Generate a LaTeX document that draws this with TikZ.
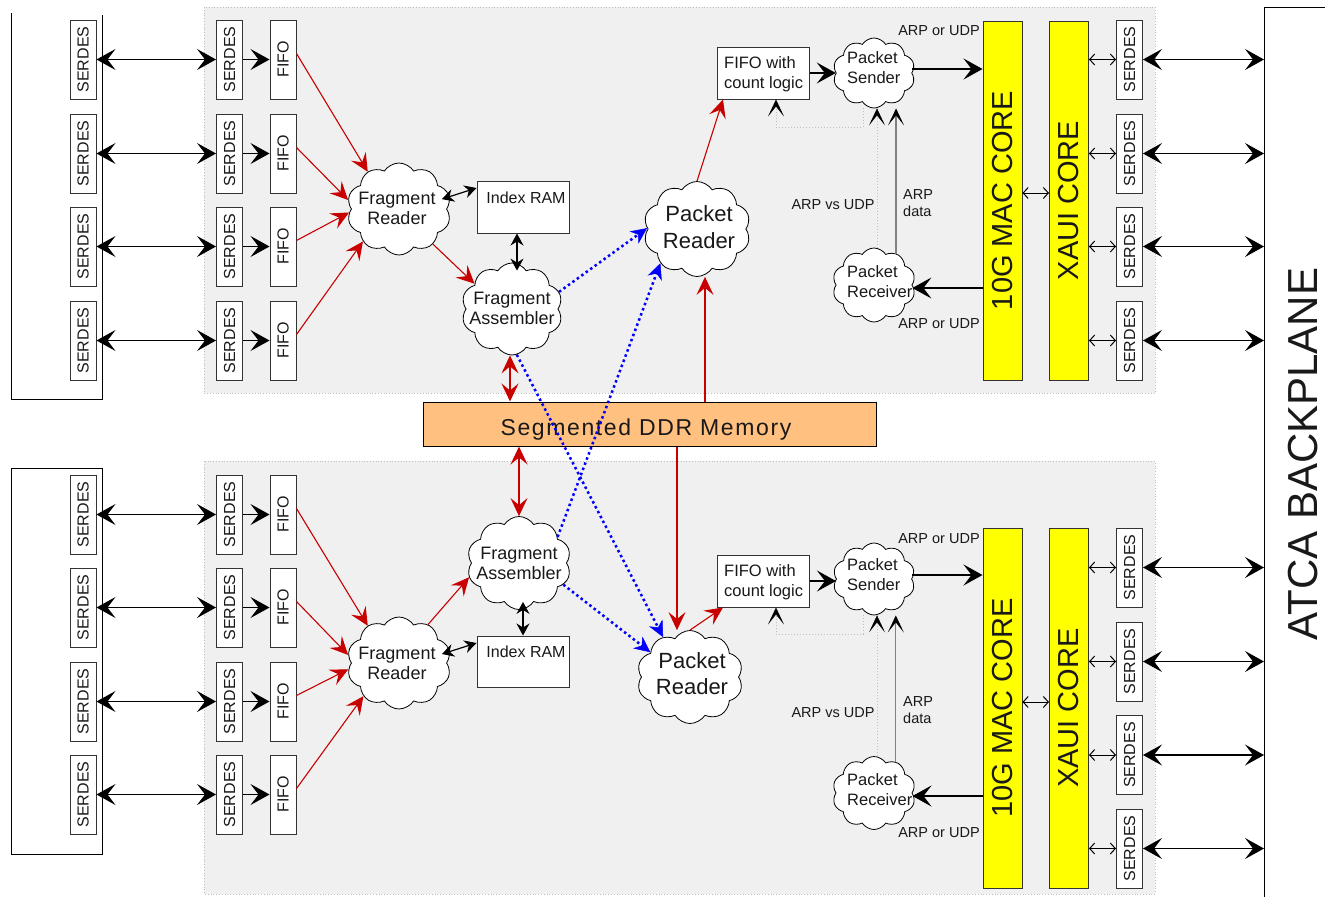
\documentclass[tikz,border=0pt]{standalone}
\usepackage{fontspec}
\setmainfont{Liberation Sans}
\usepackage{graphicx}
\usetikzlibrary{shapes.symbols,arrows.meta,calc}
\definecolor{panel}{HTML}{F0F0F0}
\definecolor{panelb}{HTML}{BEBEBE}
\definecolor{ddrc}{HTML}{FFC080}
\definecolor{dred}{HTML}{C80000}
\definecolor{myyel}{HTML}{FFFF00}
\definecolor{dblue}{HTML}{0000FF}
\begin{document}
\begin{tikzpicture}[x=1pt,y=-1pt,
  every node/.style={inner sep=0pt, text=black!90},
  panelst/.style={fill=panel, draw=panelb, dotted, line width=0.8pt},
  board/.style={draw=black, line width=1pt},
  vbox/.style={draw=black!80, line width=1pt, fill=white, minimum width=26pt, minimum height=79pt, font=\fontsize{16}{16}\selectfont},
  rbox/.style={draw=black!80, line width=1pt, fill=white},
  core/.style={draw=black!80, line width=1pt, fill=myyel, minimum width=39pt, minimum height=359pt, font=\fontsize{29}{29}\selectfont},
  ddrbox/.style={draw=black, line width=1pt, fill=ddrc, minimum width=453pt, minimum height=44pt},
  cl/.style={cloud, cloud puffs=10, cloud puff arc=115, cloud ignores aspect, draw=black, fill=white, line width=0.8pt},
  clt/.style={font=\fontsize{18}{20}\selectfont, align=center},
  clts/.style={font=\fontsize{16.5}{20}\selectfont, align=left, anchor=west},
  lb/.style={font=\fontsize{14.5}{17}\selectfont},
  bk/.style={draw=black, line width=1.2pt},
  bigdbl/.style={bk, {Stealth[length=19pt,width=21pt,inset=8pt]}-{Stealth[length=19pt,width=21pt,inset=8pt]}},
  bigarr/.style={bk, -{Stealth[length=19pt,width=21pt,inset=8pt]}},
  irdbl/.style={bk, {Stealth[length=12pt,width=13pt,inset=4pt]}-{Stealth[length=12pt,width=13pt,inset=4pt]}},
  smdbl/.style={draw=black, line width=1pt, {Straight Barb[length=5pt,width=11pt]}-{Straight Barb[length=5pt,width=11pt]}},
  rd/.style={draw=dred, line width=1.1pt, -{Stealth[length=18pt,width=17pt,inset=7pt]}},
  rddbl/.style={draw=dred, line width=1.3pt, {Stealth[length=18pt,width=17pt,inset=7pt]}-{Stealth[length=18pt,width=17pt,inset=7pt]}},
  bl/.style={draw=dblue, line width=2.5pt, dash pattern=on 2.5pt off 3pt, -{Stealth[length=16pt,width=15pt,inset=5pt,line width=0.5pt]}},
  gr/.style={draw=black!50, line width=1.3pt, -{Stealth[length=17pt,width=16pt,inset=10pt,black]}},
  dg/.style={draw=black!25, dotted, line width=1pt, -{Stealth[length=17pt,width=16pt,inset=10pt,black,line width=0.5pt]}}
]
\useasboundingbox (0,0) rectangle (1325,897);

% panels
\draw[panelst] (204,7) rectangle (1155,393);
\draw[panelst] (204,461) rectangle (1155,894);

% left boards
\draw[board] (11,13) -- (11,399) -- (102,399) -- (102,15);
\draw[board] (11,468) rectangle (102,854);

% backplane
\draw[board] (1325,7) -- (1264,7) -- (1264,897);
\node[rotate=90, font=\fontsize{42}{42}\selectfont] (atca) at (1303,454) {ATCA BACKPLANE};

% left SERDES / FIFO columns
\foreach \i/\y in {1/59.5,2/153.5,3/246.5,4/340.5,5/514.5,6/607.5,7/701.5,8/794.5} {
  \node[vbox] (ls\i) at (83,\y) {\rotatebox{90}{SERDES}};
  \node[vbox] (is\i) at (229.5,\y) {\rotatebox{90}{SERDES}};
  \node[vbox] (ff\i) at (283,\y) {\rotatebox{90}{FIFO}};
  \draw[bigdbl] (ls\i) -- (is\i);
  \draw[bigarr] (is\i) -- (ff\i);
}

% cores
\node[core] (mac1) at (1002.5,200.5) {\rotatebox{90}{10G MAC CORE}};
\node[core] (xaui1) at (1069,200.5) {\rotatebox{90}{XAUI CORE}};
\node[core, minimum height=360pt] (mac2) at (1002.5,708) {\rotatebox{90}{10G MAC CORE}};
\node[core, minimum height=360pt] (xaui2) at (1069,708) {\rotatebox{90}{XAUI CORE}};

% right SERDES
\foreach \i/\y/\x in {1/59.5/1,2/153.5/1,3/246.5/1,4/340.5/1,5/567.5/2,6/661.5/2,7/755/2,8/848.5/2} {
  \node[vbox] (rs\i) at (1129.5,\y) {\rotatebox{90}{SERDES}};
  \coordinate (bp\i) at (1264,\y);
  \draw[bigdbl] (rs\i) -- (bp\i);
  \draw[smdbl] (xaui\x.east |- rs\i) -- (rs\i.west);
}
\draw[smdbl] ([yshift=7.5pt]mac1.east) -- ([yshift=7.5pt]xaui1.west);
\draw[smdbl] ([yshift=6pt]mac2.east) -- ([yshift=6pt]xaui2.west);

% DDR
\node[ddrbox] (ddr) at (649.5,424) {};
\node[font=\fontsize{23}{23}\selectfont\addfontfeature{LetterSpace=7}] (ddrt) at (646,430) {Segmented DDR Memory};

% top clouds and boxes
\node[cl, minimum width=104pt, minimum height=92pt] (fr1) at (399,209) {};
\node[clt] (fr1t) at (397,208) {Fragment\\Reader};
\node[cl, minimum width=101pt, minimum height=92pt] (fa1) at (512,309) {};
\node[clt] (fa1t) at (512,308) {Fragment\\Assembler};
\node[cl, minimum width=107pt, minimum height=95pt] (pr1) at (697,229) {};
\node[clt, font=\fontsize{22}{27}\selectfont] (pr1t) at (699,227) {Packet\\Reader};
\node[cl, minimum width=82pt, minimum height=70pt] (ps1) at (874,73) {};
\node[clts] (ps1t) at (847,68) {Packet\\Sender};
\node[cl, minimum width=83pt, minimum height=74pt] (prx1) at (874,285) {};
\node[clts] (prx1t) at (847,282) {Packet\\Receiver};
\node[rbox, minimum width=92pt, minimum height=52pt] (ir1) at (523,207) {};
\node[font=\fontsize{16}{16}\selectfont] (ir1t) at (526,198) {Index RAM};
\node[rbox, minimum width=92pt, minimum height=52pt] (fc1) at (763,73) {};
\node[clts] (fc1t) at (724,74) {FIFO with\\count logic};

% bottom clouds and boxes
\node[cl, minimum width=104pt, minimum height=92pt] (fr2) at (399,663) {};
\node[clt] (fr2t) at (397,663) {Fragment\\Reader};
\node[cl, minimum width=104pt, minimum height=93pt] (fa2) at (519,563) {};
\node[clt] (fa2t) at (519,563) {Fragment\\Assembler};
\node[cl, minimum width=106pt, minimum height=93pt] (pr2) at (690,677) {};
\node[clt, font=\fontsize{22}{26}\selectfont] (pr2t) at (692,674) {Packet\\Reader};
\node[cl, minimum width=82pt, minimum height=72pt] (ps2) at (874,579) {};
\node[clts] (ps2t) at (847,575) {Packet\\Sender};
\node[cl, minimum width=83pt, minimum height=73pt] (prx2) at (874,793) {};
\node[clts] (prx2t) at (847,790) {Packet\\Receiver};
\node[rbox, minimum width=92pt, minimum height=51pt] (ir2) at (523,661.5) {};
\node[font=\fontsize{16}{16}\selectfont] (ir2t) at (526,652) {Index RAM};
\node[rbox, minimum width=92pt, minimum height=52pt] (fc2) at (763,581) {};
\node[clts] (fc2t) at (724,582) {FIFO with\\count logic};

% labels
\node[lb] (a1) at (939,31) {ARP or UDP};
\node[lb] (a2) at (939,324) {ARP or UDP};
\node[lb] (a3) at (833,205) {ARP vs UDP};
\node[lb, align=left, anchor=west] (a4) at (903,203) {ARP\\data};
\node[lb] (b1) at (939,539) {ARP or UDP};
\node[lb] (b2) at (939,833) {ARP or UDP};
\node[lb] (b3) at (833,713) {ARP vs UDP};
\node[lb, align=left, anchor=west] (b4) at (903,710) {ARP\\data};

% FIFO -> Fragment Reader
\foreach \i/\a in {1/130,2/170,3/184,4/222} \draw[rd] ([yshift=6pt]ff\i.east) -- (fr1.\a);
\foreach \i/\a in {5/130,6/171,7/187,8/223} \draw[rd] ([yshift=6pt]ff\i.east) -- (fr2.\a);

% top connections
\draw[irdbl] ([xshift=-8pt]fr1.11) -- ([yshift=19pt]ir1.west);
\draw[irdbl] ([xshift=-6pt]ir1.south) -- ([xshift=-6pt,yshift=-8pt]ir1.south |- fa1.north);
\draw[rd] (fr1.314) -- (fa1.146);
\draw[rddbl] ([xshift=-2pt]fa1.south) -- ([xshift=-2pt]fa1.south |- ddr.north);
\draw[rd] ([xshift=8pt]pr1.south |- ddr.north) -- ([xshift=8pt]pr1.south);
\draw[rd] (pr1.north) -- ([xshift=-40pt]fc1.south);
\draw[bigarr] (fc1.east) -- (fc1.east -| ps1.west);
\draw[bigarr] ([yshift=4pt]ps1.east) -- ([yshift=4pt]ps1.east -| mac1.west);
\draw[bigarr] ([yshift=-3pt]mac1.west |- prx1.east) -- ([yshift=-3pt]prx1.east);
\draw[gr] (prx1.55) -- (prx1.55 |- ps1.south);
\draw[dg] ([xshift=-11pt]ps1.south) -- ++(0,19) -| ([xshift=13pt]fc1.south);
\draw[dg] ([xshift=3pt]prx1.north) -- ([xshift=3pt]prx1.north |- ps1.south);

% bottom connections
\draw[irdbl] ([xshift=-8pt]fr2.10) -- ([yshift=18.5pt]ir2.west);
\draw[irdbl] ([yshift=8pt]ir2.north |- fa2.south) -- (ir2.north);
\draw[rd] (fr2.53) -- (fa2.196);
\draw[rddbl] (ddr.south -| fa2.north) -- (fa2.north);
\draw[rd] ([xshift=-13pt]pr2.north |- ddr.south) -- ([xshift=-13pt]pr2.north);
\draw[rd] (pr2.north) -- ([xshift=-40pt]fc2.south);
\draw[bigarr] (fc2.east) -- (fc2.east -| ps2.west);
\draw[bigarr] ([yshift=4pt]ps2.east) -- ([yshift=4pt]ps2.east -| mac2.west);
\draw[bigarr] ([yshift=-3pt]mac2.west |- prx2.east) -- ([yshift=-3pt]prx2.east);
\draw[gr] (prx2.55) -- (prx2.55 |- ps2.south);
\draw[dg] ([xshift=-11pt]ps2.south) -- ++(0,19) -| ([xshift=13pt]fc2.south);
\draw[dg] ([xshift=3pt]prx2.north) -- ([xshift=3pt]prx2.north |- ps2.south);

% blue dotted cross connections
\draw[bl] (fa1.20) -- (pr1.179);
\draw[bl] (fa1.276) -- (pr2.124);
\draw[bl] (fa2.34) -- (pr1.223);
\draw[bl] (fa2.334) -- (pr2.148);
\end{tikzpicture}
\end{document}
